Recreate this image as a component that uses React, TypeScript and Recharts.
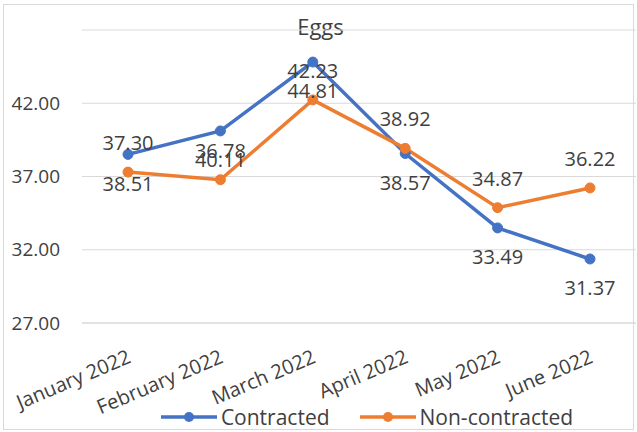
import React from "react";
import { LineChart, Line, XAxis, YAxis, CartesianGrid, Legend, LabelList } from "recharts";

const months = ["January 2022", "February 2022", "March 2022", "April 2022", "May 2022", "June 2022"];
const contracted = [38.51, 40.11, 44.81, 38.57, 33.49, 31.37];
const nonContracted = [37.3, 36.78, 42.23, 38.92, 34.87, 36.22];
const yTicks = [27, 32, 37, 42];

const BLUE = "#4472C4";
const ORANGE = "#ED7D31";
const TEXT = "#404040";
const FONT = "'Open Sans', sans-serif";

const chartData = months.map((m, i) => ({
  month: m,
  contracted: contracted[i],
  nonContracted: nonContracted[i],
}));

const MonthTick = ({ x, y, payload }: any) => {
  const ax = x + 4;
  const ay = y + 31;
  return (
    <text
      x={ax}
      y={ay}
      transform={`rotate(-23, ${ax}, ${ay})`}
      textAnchor="end"
      fill={TEXT}
      fontSize={20}
      fontFamily={FONT}
    >
      {payload.value}
    </text>
  );
};

const LegendItems = () => {
  const items = [
    { name: "Contracted", color: BLUE },
    { name: "Non-contracted", color: ORANGE },
  ];
  return (
    <div
      style={{
        height: 30,
        display: "flex",
        justifyContent: "center",
        alignItems: "center",
        gap: 30,
        fontFamily: FONT,
        fontSize: 21,
        color: TEXT,
        paddingLeft: 98,
      }}
    >
      {items.map((it) => (
        <div key={it.name} style={{ display: "flex", alignItems: "center" }}>
          <svg width={56} height={12} style={{ marginRight: 4 }}>
            <line x1={0} y1={6} x2={56} y2={6} stroke={it.color} strokeWidth={3.5} />
            <circle cx={28} cy={6} r={5} fill={it.color} />
          </svg>
          <span>{it.name}</span>
        </div>
      ))}
    </div>
  );
};

const fmt = (v: any) => Number(v).toFixed(2);

export default function App() {
  return (
    <div style={{ position: "absolute", left: 0, top: 0, width: 637, height: 432, background: "#fff" }}>
      <div
        style={{
          position: "absolute",
          left: 3,
          top: 4,
          width: 631,
          height: 426,
          border: "1px solid #d9d9d9",
          boxSizing: "border-box",
        }}
      />
      <div
        style={{
          position: "absolute",
          left: 0,
          top: 11,
          width: 641,
          textAlign: "center",
          fontFamily: FONT,
          fontSize: 22,
          color: TEXT,
          lineHeight: "30px",
        }}
      >
        Eggs
      </div>
      <div style={{ position: "absolute", left: 0, top: 0 }}>
        <LineChart
          width={637}
          height={432}
          data={chartData}
          margin={{ top: 30, right: 1, left: 0, bottom: 0 }}
        >
          <CartesianGrid vertical={false} stroke="#d9d9d9" />
          <XAxis
            dataKey="month"
            interval={0}
            padding={{ left: 46, right: 46 }}
            tickLine={false}
            axisLine={{ stroke: "#d9d9d9" }}
            height={79}
            tick={<MonthTick />}
          />
          <YAxis
            domain={[27, 47]}
            ticks={yTicks}
            width={82}
            axisLine={false}
            tickLine={false}
            tickMargin={16}
            tickFormatter={fmt}
            tick={{ fill: TEXT, fontSize: 19, fontFamily: FONT }}
          />
          <Legend verticalAlign="bottom" content={<LegendItems />} />
          <Line
            dataKey="contracted"
            name="Contracted"
            stroke={BLUE}
            strokeWidth={3.5}
            dot={{ r: 5, fill: BLUE, stroke: BLUE, strokeWidth: 1 }}
            isAnimationActive={false}
          >
            <LabelList
              dataKey="contracted"
              position="bottom"
              offset={22}
              formatter={fmt}
              fill={TEXT}
              fontSize={20}
              fontFamily={FONT}
            />
          </Line>
          <Line
            dataKey="nonContracted"
            name="Non-contracted"
            stroke={ORANGE}
            strokeWidth={3.5}
            dot={{ r: 5, fill: ORANGE, stroke: ORANGE, strokeWidth: 1 }}
            isAnimationActive={false}
          >
            <LabelList
              dataKey="nonContracted"
              position="top"
              offset={22}
              formatter={fmt}
              fill={TEXT}
              fontSize={20}
              fontFamily={FONT}
            />
          </Line>
        </LineChart>
      </div>
    </div>
  );
}
